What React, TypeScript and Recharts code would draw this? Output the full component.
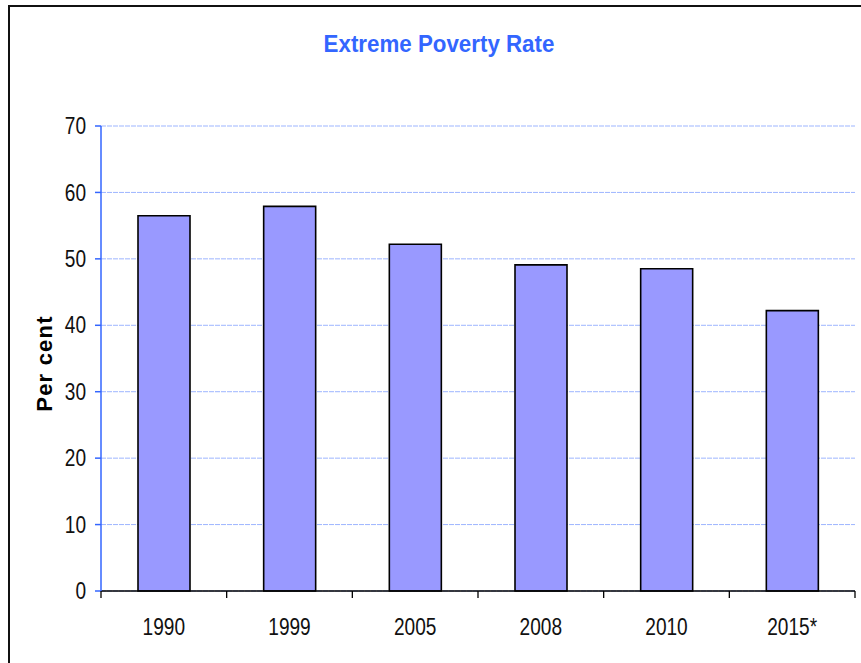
import React from "react";
import { BarChart, Bar, XAxis, YAxis, CartesianGrid } from "recharts";

const years = ["1990", "1999", "2005", "2008", "2010", "2015*"];
const rates = [56.5, 57.9, 52.2, 49.1, 48.5, 42.2];
const yTicks = [0, 10, 20, 30, 40, 50, 60, 70];

const data = years.map((year, i) => ({ year, rate: rates[i] }));

const font = "'Liberation Sans', Arial, sans-serif";
const axisBlue = "#3366ff";
// the original renders its labels tall and narrow
const squeeze = 0.83;

// category ticks sit between the bars, so draw them at band edges
function YearTick(props: any) {
  const { x, y, payload, index } = props;
  const half = payload?.offset ?? 62.8;
  return (
    <g>
      <line x1={x - half} x2={x - half} y1={y - 28} y2={y - 21} stroke="#000" strokeWidth={1.3} />
      {index === years.length - 1 && (
        <line x1={x + half} x2={x + half} y1={y - 28} y2={y - 21} stroke="#000" strokeWidth={1.3} />
      )}
      <text
        transform={`translate(${x}, ${y}) scale(${squeeze}, 1)`}
        dy="0.71em"
        textAnchor="middle"
        fill="#111"
        fontSize={23}
        fontFamily={font}
      >
        {payload.value}
      </text>
    </g>
  );
}

function ValueTick(props: any) {
  const { x, y, payload } = props;
  return (
    <text
      transform={`translate(${x}, ${y}) scale(${squeeze}, 1)`}
      dy="0.355em"
      textAnchor="end"
      fill="#111"
      fontSize={23}
      fontFamily={font}
    >
      {payload.value}
    </text>
  );
}

function PerCentLabel(props: any) {
  const vb = props.viewBox || {};
  const cx = vb.x - 17;
  const cy = vb.y + vb.height / 2 + 5;
  return (
    <text
      x={cx}
      y={cy}
      transform={`rotate(-90, ${cx}, ${cy})`}
      textAnchor="middle"
      dominantBaseline="central"
      fontSize={22}
      fontWeight="bold"
      letterSpacing={1.2}
      fontFamily={font}
      fill="#000"
    >
      Per cent
    </text>
  );
}

export default function App() {
  return (
    <div style={{ position: "absolute", left: 0, top: 0, width: 861, height: 663, background: "#fff", overflow: "hidden" }}>
      <div
        style={{
          position: "absolute",
          left: 8,
          top: 5,
          width: 851,
          height: 656,
          borderTop: "2px solid #111",
          borderLeft: "2px solid #111",
        }}
      />
      <div
        style={{
          position: "absolute",
          left: 239,
          width: 400,
          top: 30,
          textAlign: "center",
          color: "#3366ff",
          fontFamily: font,
          fontWeight: "bold",
          fontSize: 24,
          transform: "scaleX(0.93)",
        }}
      >
        Extreme Poverty Rate
      </div>
      <div style={{ position: "absolute", left: 0, top: 0 }}>
        <BarChart width={861} height={663} data={data} margin={{ top: 126, right: 6, bottom: 12, left: 61 }} barCategoryGap="0%">
          <CartesianGrid horizontal vertical={false} stroke="#9db5ff" strokeDasharray="5 1" />
          <XAxis
            dataKey="year"
            height={60}
            axisLine={{ stroke: "#000", strokeWidth: 1.5 }}
            tickLine={false}
            tick={<YearTick />}
            tickSize={6}
            tickMargin={22}
            interval={0}
          />
          <YAxis
            width={40}
            domain={[0, 70]}
            ticks={yTicks}
            interval={0}
            axisLine={{ stroke: axisBlue, strokeWidth: 1.5 }}
            tickLine={{ stroke: axisBlue, strokeWidth: 1.5 }}
            tickSize={6}
            tickMargin={9}
            tick={<ValueTick />}
            label={<PerCentLabel />}
          />
          <Bar dataKey="rate" fill="#9999ff" stroke="#000" strokeWidth={1.6} barSize={52} isAnimationActive={false} />
        </BarChart>
      </div>
    </div>
  );
}
